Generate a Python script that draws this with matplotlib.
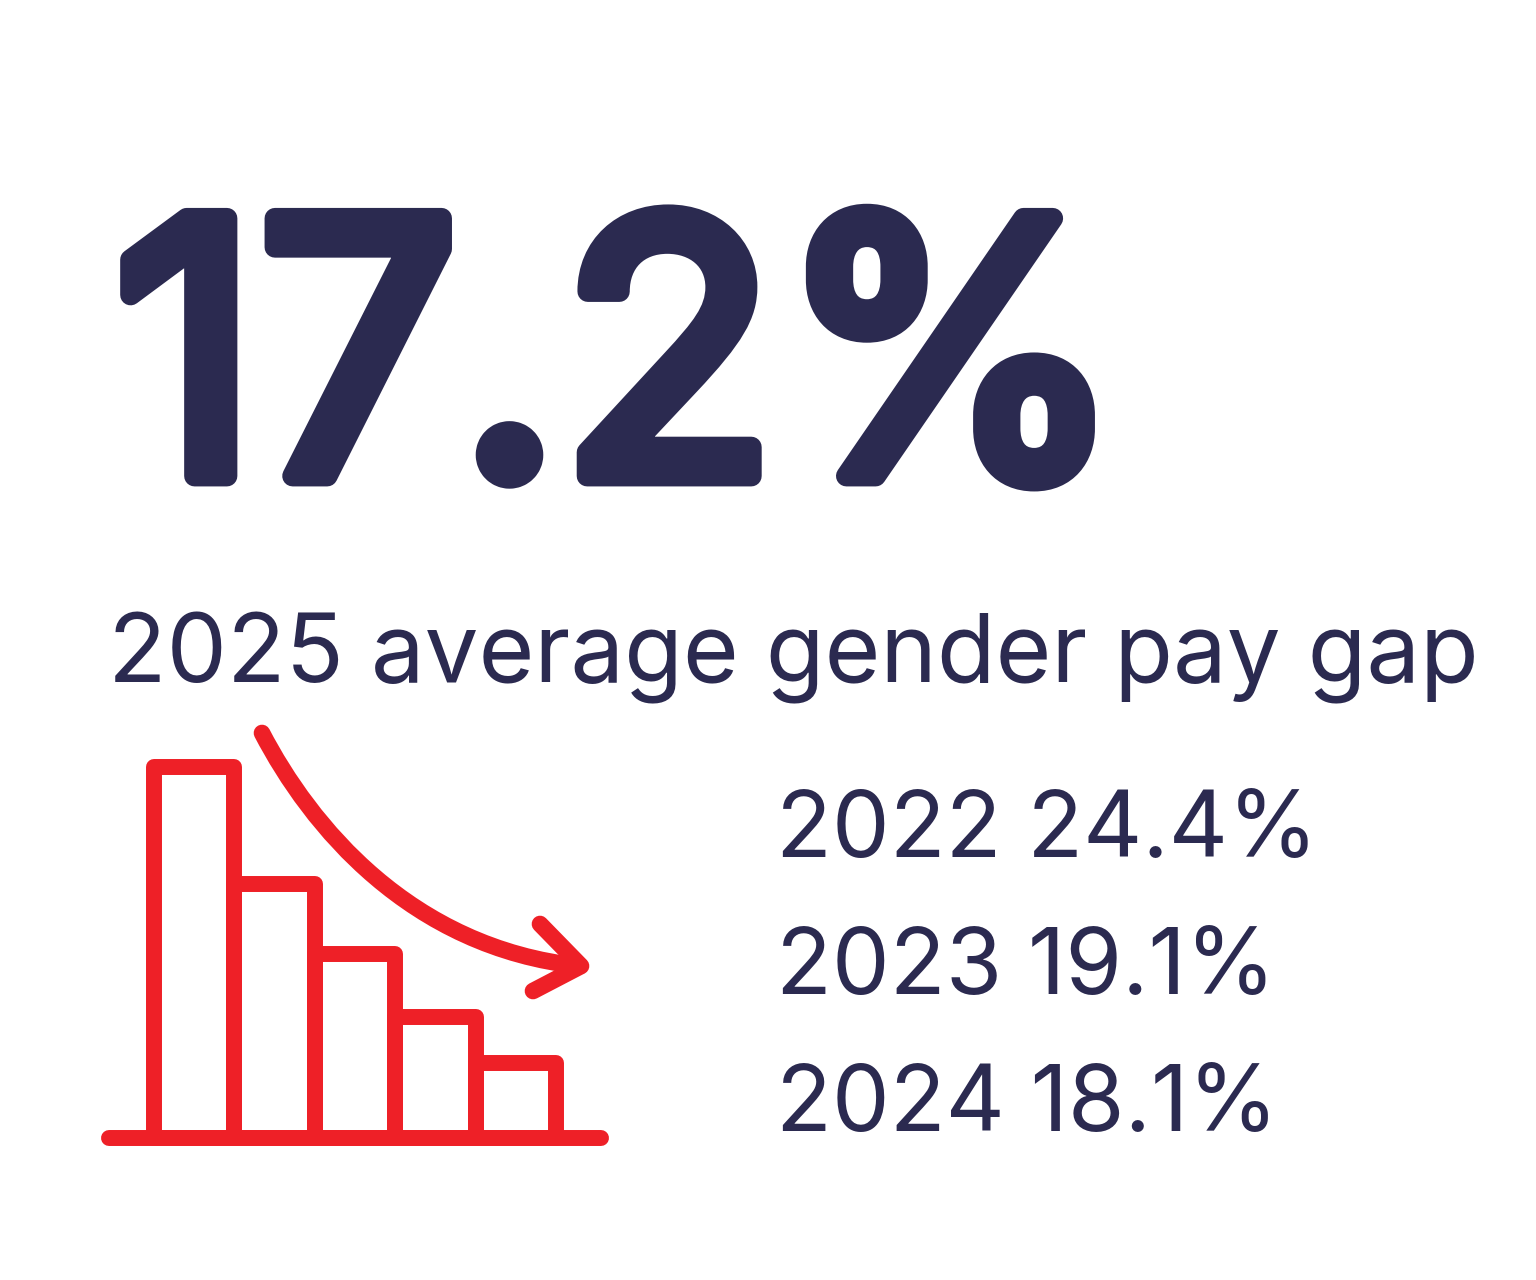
#Gender pay gap headline with a small falling bar icon
import matplotlib
matplotlib.use("Agg")
import matplotlib.pyplot as plt
import matplotlib.patheffects as pe
from matplotlib.patches import PathPatch
from matplotlib.path import Path

headline = "17.2%"
subtitle = "2025 average gender pay gap"
years = ["2022", "2023", "2024"]
gaps = ["24.4%", "19.1%", "18.1%"]

# icon bars, no scale in the picture so these are just relative heights
icon_bars = [371, 254, 184, 121, 75]

NAVY = "#2b2a50"
RED = "#ee2027"
W, H = 1536, 1280

plt.rcParams["font.family"] = ["Inter", "DejaVu Sans"]

fig = plt.figure(figsize=(W / 100, H / 100), dpi=100, facecolor="white")

# page axes in pixels, y going down, for text and the arrow
page = fig.add_axes([0, 0, 1, 1])
page.set_xlim(0, W)
page.set_ylim(H, 0)
page.axis("off")

# stroke with round joins gives the soft ends of the big number
big = page.text(114, 476, headline, fontsize=255, fontweight="normal", color=NAVY,
                ha="left", va="baseline", family="Inter")
big.set_path_effects([pe.withStroke(linewidth=15, foreground=NAVY, joinstyle="round", capstyle="round")])

page.text(108, 682, subtitle, fontsize=69, color=NAVY, ha="left", va="baseline",
          fontweight="normal", family="Inter")

for i in range(len(years)):
    page.text(776, 857 + i * 137, years[i] + " " + gaps[i], fontsize=66, color=NAVY,
              ha="left", va="baseline", family="Inter")

# icon axes sit on the baseline
icon = fig.add_axes([154 / W, 1 - 1138 / H, 402 / W, 371 / H])
icon.set_xlim(-0.5, len(icon_bars) - 0.5)
icon.set_ylim(0, max(icon_bars))
icon.axis("off")
icon.patch.set_alpha(0)
icon.bar(range(len(icon_bars)), icon_bars, width=1, facecolor="none", edgecolor=RED,
         linewidth=11.5, joinstyle="round", clip_on=False)

page.plot([109, 601], [1138, 1138], color=RED, lw=11.5, solid_capstyle="round", zorder=5)

# curved arrow
curve = Path([(262, 733), (310, 825), (410, 948), (580, 966)],
             [Path.MOVETO, Path.CURVE4, Path.CURVE4, Path.CURVE4])
page.add_patch(PathPatch(curve, fill=False, edgecolor=RED, lw=12, capstyle="round"))
page.plot([540, 581, 533], [924, 966, 991], color=RED, lw=12,
          solid_capstyle="round", solid_joinstyle="round")

fig.savefig("out.png", dpi=100, facecolor="white")
